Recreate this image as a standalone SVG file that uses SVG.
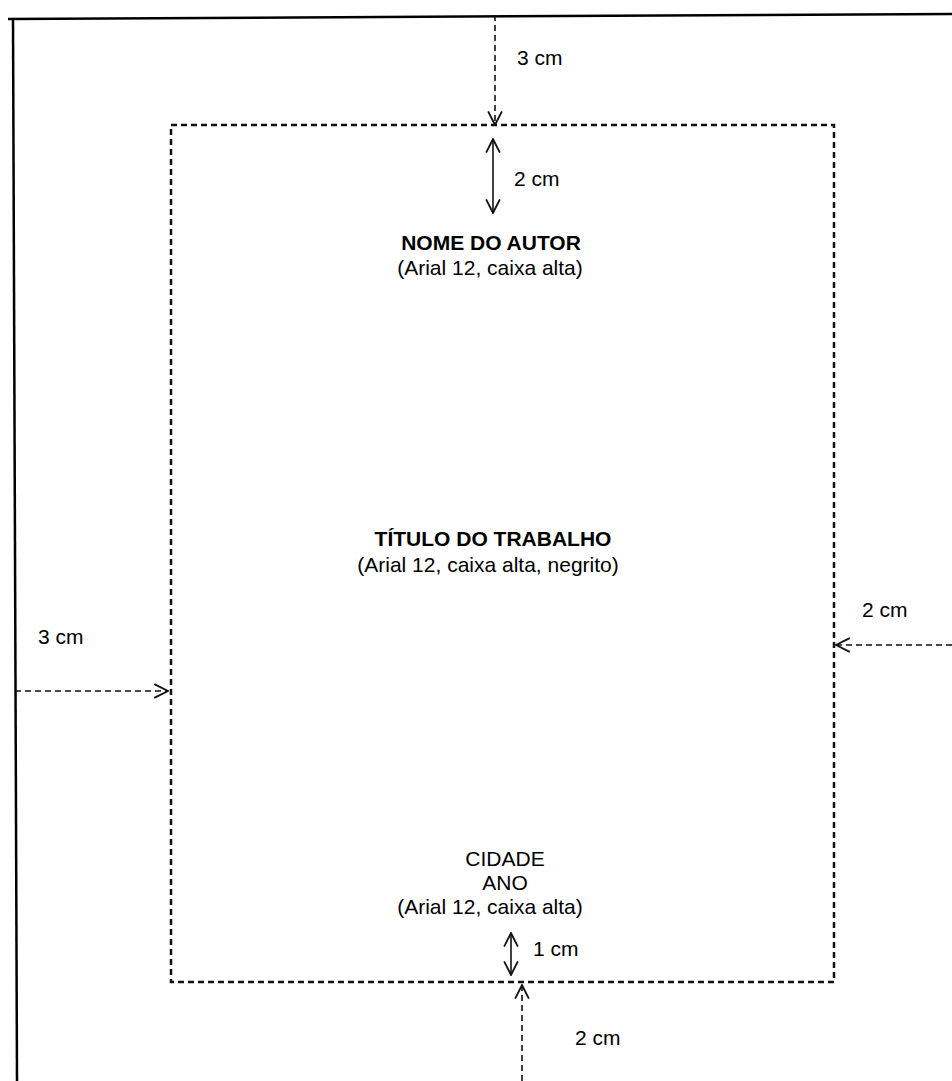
<svg xmlns="http://www.w3.org/2000/svg" width="952" height="1081" viewBox="0 0 952 1081">
<defs>
<style>
.t{font-family:"Liberation Sans",Arial,sans-serif;font-size:21px;fill:#000}
.b{font-weight:bold}
.m{text-anchor:middle}
.frame{stroke:#000;stroke-width:2.5;fill:none}
.dash{stroke:#111;stroke-width:2.5;fill:none;stroke-dasharray:6 4}
.dline{stroke:#111;stroke-width:1.6;fill:none;stroke-dasharray:6 4}
.sline{stroke:#111;stroke-width:1.6;fill:none}
</style>
<marker id="ah" viewBox="0 0 14 14" refX="13" refY="7" markerUnits="userSpaceOnUse" markerWidth="16" markerHeight="16" orient="auto-start-reverse">
<path d="M1,1 L13,7 L1,13" fill="none" stroke="#111" stroke-width="1.6" stroke-dasharray="none"/>
</marker>
</defs>
<rect width="952" height="1081" fill="#fff"/>
<g id="page">
<path class="frame" d="M8,19 L952,14"/>
<path class="frame" d="M13,18 L17,1081"/>
</g>
<g id="margin-box">
<rect class="dash" x="171" y="125" width="663" height="857"/>
</g>
<g id="connectors">
<line class="dline" x1="495" y1="15" x2="495" y2="125" marker-end="url(#ah)"/>
<line class="sline" x1="493" y1="139" x2="493" y2="213" marker-start="url(#ah)" marker-end="url(#ah)"/>
<line class="dline" x1="15" y1="691" x2="168" y2="691" marker-end="url(#ah)"/>
<line class="dline" x1="952" y1="645" x2="836" y2="645" marker-end="url(#ah)"/>
<line class="sline" x1="511" y1="933" x2="511" y2="975" marker-start="url(#ah)" marker-end="url(#ah)"/>
<line class="dline" x1="522" y1="1081" x2="522" y2="985" marker-end="url(#ah)"/>
</g>
<g id="label-top-3cm"><text class="t" x="517" y="65">3 cm</text></g>
<g id="label-top-2cm"><text class="t" x="514" y="186">2 cm</text></g>
<g id="node-autor">
<text class="t b m" x="491" y="250">NOME DO AUTOR</text>
<text class="t m" x="490" y="275">(Arial 12, caixa alta)</text>
</g>
<g id="node-titulo">
<text class="t b m" x="493" y="546">TÍTULO DO TRABALHO</text>
<text class="t m" x="488" y="572">(Arial 12, caixa alta, negrito)</text>
</g>
<g id="label-left-3cm"><text class="t" x="38" y="644">3 cm</text></g>
<g id="label-right-2cm"><text class="t" x="862" y="617">2 cm</text></g>
<g id="node-cidade">
<text class="t m" x="505" y="866">CIDADE</text>
<text class="t m" x="505" y="890">ANO</text>
<text class="t m" x="490" y="914">(Arial 12, caixa alta)</text>
</g>
<g id="label-bottom-1cm"><text class="t" x="533" y="956">1 cm</text></g>
<g id="label-bottom-2cm"><text class="t" x="575" y="1045">2 cm</text></g>
</svg>
